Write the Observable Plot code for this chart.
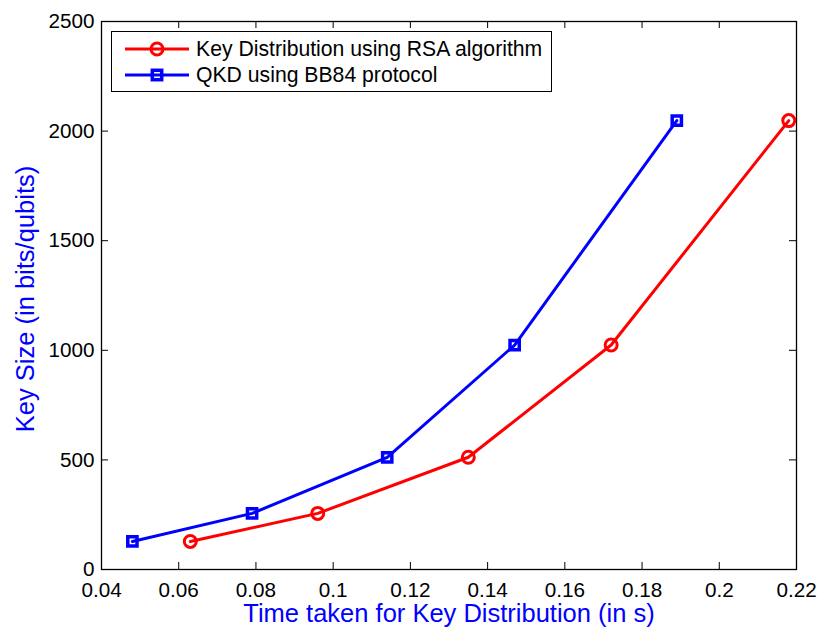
<!DOCTYPE html>
<html>
<head>
<meta charset="utf-8">
<script src="https://cdn.jsdelivr.net/npm/d3@7"></script>
<script src="https://cdn.jsdelivr.net/npm/@observablehq/plot@0.6"></script>
<style>
  html, body { margin: 0; padding: 0; background: white; }
  #wrap { position: relative; width: 817px; height: 627px; font-family: "Liberation Sans", Arial, sans-serif; }
  #legend { position: absolute; left: 111px; top: 31px; width: 439px; height: 59px; border: 1px solid black; background: white; box-sizing: content-box; }
  .row { position: absolute; left: 0; height: 24px; display: flex; align-items: center; }
  .row svg { margin-left: 13px; margin-right: 7px; flex: none; }
  .row span { font-size: 21.2px; line-height: 24px; color: black; white-space: nowrap; }
</style>
</head>
<body>
<div id="wrap"></div>
<script>
// Data
const seriesNames = ["Key Distribution using RSA algorithm", "QKD using BB84 protocol"];
const keySizes = [128, 256, 512, 1024, 2048];
const rsaTimes = [0.063, 0.096, 0.135, 0.172, 0.218];
const bb84Times = [0.048, 0.079, 0.114, 0.147, 0.189];
const xTicks = [0.04, 0.06, 0.08, 0.1, 0.12, 0.14, 0.16, 0.18, 0.2, 0.22];
const xTickLabels = ["0.04", "0.06", "0.08", "0.1", "0.12", "0.14", "0.16", "0.18", "0.2", "0.22"];
const yTicks = [0, 500, 1000, 1500, 2000, 2500];
const yTickLabels = ["0", "500", "1000", "1500", "2000", "2500"];
const xLabel = "Time taken for Key Distribution (in s)";
const yLabel = "Key Size (in bits/qubits)";

const colors = ["#ff0000", "#0000ff"];
const rsa = keySizes.map((k, i) => ({x: rsaTimes[i], y: k}));
const bb84 = keySizes.map((k, i) => ({x: bb84Times[i], y: k}));

const W = 817, H = 627, mL = 101, mR = 21, mT = 21, mB = 58;
const pw = W - mL - mR, ph = H - mT - mB;
const tl = 7;

const chart = Plot.plot({
  width: W, height: H,
  marginLeft: mL, marginRight: mR, marginTop: mT, marginBottom: mB,
  style: {fontFamily: "'Liberation Sans', Arial, sans-serif", fontSize: "20.7px", background: "white", color: "black", overflow: "visible"},
  x: {domain: [0.04, 0.22]},
  y: {domain: [0, 2500]},
  marks: [
    Plot.axisX({ticks: xTicks, tickSize: 0, tickPadding: 12.3, tickFormat: d => xTickLabels[xTicks.indexOf(d)], label: null, fontSize: 20.7}),
    Plot.axisY({ticks: yTicks, tickSize: 0, tickPadding: 7, tickFormat: d => yTickLabels[yTicks.indexOf(d)], label: null, fontSize: 20.7}),
    Plot.tickX(xTicks, {x: d => d, insetTop: ph - tl, stroke: "black", strokeWidth: 1}),
    Plot.tickX(xTicks, {x: d => d, insetBottom: ph - tl, stroke: "black", strokeWidth: 1}),
    Plot.tickY(yTicks, {y: d => d, insetRight: pw - tl, stroke: "black", strokeWidth: 1}),
    Plot.tickY(yTicks, {y: d => d, insetLeft: pw - tl, stroke: "black", strokeWidth: 1}),
    Plot.frame({stroke: "black", strokeWidth: 1.3}),
    Plot.line(rsa, {x: "x", y: "y", stroke: colors[0], strokeWidth: 3}),
    Plot.dot(rsa, {x: "x", y: "y", stroke: colors[0], fill: "none", r: 6, strokeWidth: 3}),
    Plot.line(bb84, {x: "x", y: "y", stroke: colors[1], strokeWidth: 3}),
    Plot.dot(bb84, {x: "x", y: "y", stroke: colors[1], fill: "none", symbol: "square", r: 5.2, strokeWidth: 3.5}),
    Plot.text([xLabel], {frameAnchor: "bottom", textAnchor: "middle", lineAnchor: "middle", dy: 44.8, fill: "#0000ff", fontSize: 25.5}),
    Plot.text([yLabel], {frameAnchor: "left", textAnchor: "middle", lineAnchor: "middle", dx: -76, dy: 3.5, rotate: -90, fill: "#0000ff", fontSize: 25.5})
  ]
});

const wrap = document.getElementById("wrap");
wrap.appendChild(chart);

// Legend
const legend = document.createElement("div");
legend.id = "legend";
const symbols = ["circle", "square"];
seriesNames.forEach((name, i) => {
  const row = document.createElement("div");
  row.className = "row";
  row.style.top = (4.5 + i * 26.7) + "px";
  const svg = d3.create("svg").attr("width", 64).attr("height", 20);
  svg.append("line").attr("x1", 0).attr("x2", 64).attr("y1", 10).attr("y2", 10)
    .attr("stroke", colors[i]).attr("stroke-width", 3);
  if (symbols[i] === "circle") {
    svg.append("circle").attr("cx", 32).attr("cy", 10).attr("r", 6)
      .attr("fill", "none").attr("stroke", colors[i]).attr("stroke-width", 3);
  } else {
    svg.append("rect").attr("x", 27.3).attr("y", 5.3).attr("width", 9.4).attr("height", 9.4)
      .attr("fill", "none").attr("stroke", colors[i]).attr("stroke-width", 3.5);
  }
  row.appendChild(svg.node());
  const span = document.createElement("span");
  span.textContent = name;
  row.appendChild(span);
  legend.appendChild(row);
});
wrap.appendChild(legend);
</script>
</body>
</html>
